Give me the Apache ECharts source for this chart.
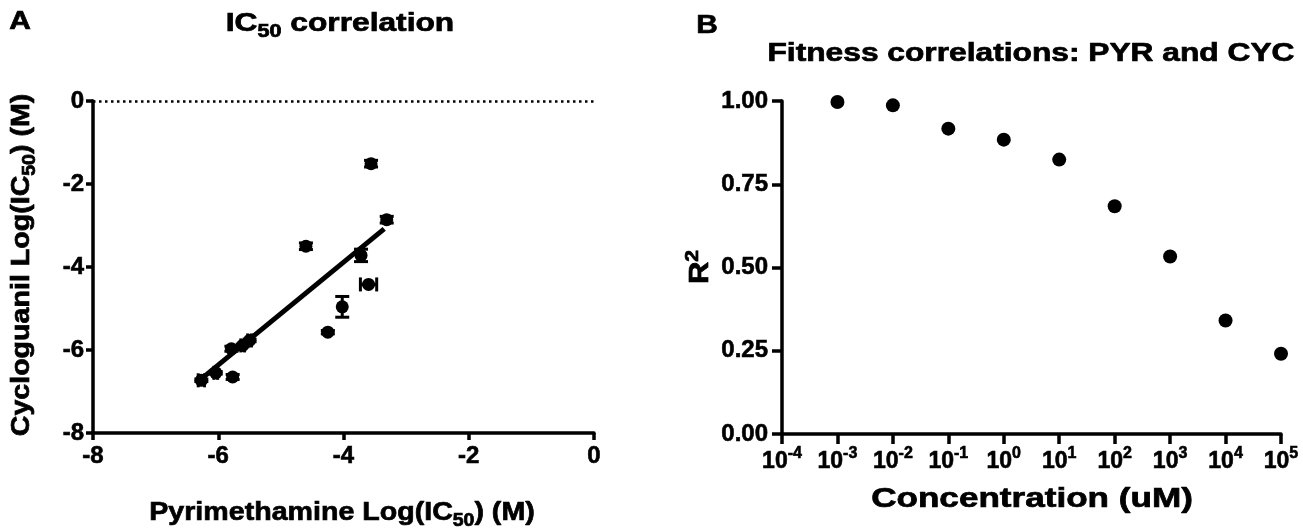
<!DOCTYPE html>
<html>
<head>
<meta charset="utf-8">
<script src="https://cdn.jsdelivr.net/npm/echarts@6/dist/echarts.min.js"></script>
<style>
	html, body { margin: 0; padding: 0; background: #fff; }
	#main { width: 1303px; height: 531px; }
</style>
</head>
<body>
<div id="main"></div>
<script>
/* Panel A: IC50 correlation */
const pyrLogIC50 = [-6.27, -6.04, -5.79, -5.77, -5.61, -5.50, -4.60, -4.25, -4.02, -3.72, -3.60, -3.56, -3.31];
const cycLogIC50 = [-6.73, -6.55, -5.97, -6.65, -5.89, -5.77, -3.50, -5.57, -4.96, -3.72, -4.42, -1.51, -2.86];
const pyrErr = [0.05, 0.03, 0, 0, 0.03, 0.03, 0, 0, 0, 0, 0.13, 0, 0];
const cycErr = [0.03, 0.03, 0.06, 0.06, 0.03, 0.03, 0.08, 0.04, 0.25, 0.15, 0, 0.08, 0.08];
/* fitted line ends */
const fitPyr = [-6.29, -3.35];
const fitCyc = [-6.72, -3.08];

/* Panel B: fitness correlations */
const concExp = [-3, -2, -1, 0, 1, 2, 3, 4, 5];
const rSquared = [0.997, 0.987, 0.917, 0.884, 0.824, 0.684, 0.533, 0.341, 0.241];

const BLACK = "#000";
const FONT = "Liberation Sans";

const chart = echarts.init(document.getElementById("main"));

const heavy = { textBorderColor: BLACK, textBorderWidth: 0.6 };
const tickLabel = (extra) =>
	Object.assign({ color: BLACK, fontFamily: FONT, fontWeight: "bold", fontSize: 24 }, heavy, extra);

/* 共用座標軸樣式 */
const axisBase = (tickLen, extra) =>
	Object.assign(
		{
			type: "value",
			splitLine: { show: false },
			axisLine: { show: true, onZero: false, lineStyle: { color: BLACK, width: 3.5 } },
			axisTick: { show: true, inside: false, length: tickLen, lineStyle: { color: BLACK, width: 3.5 } },
		},
		extra
	);

const errorRows = pyrLogIC50.map((x, i) => [x, cycLogIC50[i], pyrErr[i], cycErr[i]]);
const scatterA = pyrLogIC50.map((x, i) => [x, cycLogIC50[i]]);
const fitLine = fitPyr.map((x, i) => [x, fitCyc[i]]);
const scatterB = concExp.map((e, i) => [e, rSquared[i]]);

function renderErrorBar(params, api) {
	const x = api.value(0),
		y = api.value(1),
		ex = api.value(2),
		ey = api.value(3);
	const style = { stroke: BLACK, lineWidth: 3 };
	const cap = 7;
	const children = [];
	if (ey > 0) {
		const top = api.coord([x, y + ey]);
		const bot = api.coord([x, y - ey]);
		children.push({ type: "line", shape: { x1: top[0], y1: top[1], x2: bot[0], y2: bot[1] }, style });
		children.push({ type: "line", shape: { x1: top[0] - cap, y1: top[1], x2: top[0] + cap, y2: top[1] }, style });
		children.push({ type: "line", shape: { x1: bot[0] - cap, y1: bot[1], x2: bot[0] + cap, y2: bot[1] }, style });
	}
	if (ex > 0) {
		const lft = api.coord([x - ex, y]);
		const rgt = api.coord([x + ex, y]);
		children.push({ type: "line", shape: { x1: lft[0], y1: lft[1], x2: rgt[0], y2: rgt[1] }, style });
		children.push({ type: "line", shape: { x1: lft[0], y1: lft[1] - cap, x2: lft[0], y2: lft[1] + cap }, style });
		children.push({ type: "line", shape: { x1: rgt[0], y1: rgt[1] - cap, x2: rgt[0], y2: rgt[1] + cap }, style });
	}
	return { type: "group", children };
}

/* 標題與軸名稱 */
const label = (text, x, y, size, scaleX, extra) =>
	Object.assign(
		{
			type: "text",
			x,
			y,
			scaleX,
			silent: true,
			style: Object.assign(
				{
					text,
					fill: BLACK,
					stroke: BLACK,
					lineWidth: 0.7,
					fontFamily: FONT,
					fontWeight: "bold",
					fontSize: size,
					align: "center",
					verticalAlign: "middle",
				},
				extra && extra.style
			),
		},
		extra && extra.el
	);

const richPart = (size, more) =>
	Object.assign({ fontSize: size, fontFamily: FONT, fontWeight: "bold", fill: BLACK, stroke: BLACK, lineWidth: 0.7 }, more);
const subRich = (size) => ({
	sub: richPart(size * 0.68, { verticalAlign: "bottom", lineHeight: size * 0.7 }),
	n: richPart(size, { lineHeight: size * 1.3 }),
});
const supRich = (size) => ({
	sup: richPart(size * 0.68, { verticalAlign: "top", lineHeight: size * 0.7 }),
	n: richPart(size, { lineHeight: size * 1.3 }),
});
/* rich 文字不用外框，避免畫出方塊 */
const richStyle = (rich) => ({ style: { rich, stroke: null, lineWidth: 0 } });

chart.setOption({
	animation: false,
	backgroundColor: "#fff",
	grid: [
		{ left: 93, top: 101, width: 501, height: 332 },
		{ left: 782, top: 101, width: 499, height: 333 },
	],
	xAxis: [
		axisBase(7, { gridIndex: 0, min: -8, max: 0, interval: 2, axisLabel: tickLabel({ margin: 11 }) }),
		axisBase(10, {
			gridIndex: 1,
			min: -4,
			max: 5,
			interval: 1,
			axisLabel: {
				margin: 12,
				formatter: (v) => `{n|10}{s|${v}}`,
				rich: {
					n: Object.assign({ fontFamily: FONT, fontWeight: "bold", fontSize: 23, color: BLACK, lineHeight: 32 }, heavy),
					s: Object.assign({ fontFamily: FONT, fontWeight: "bold", fontSize: 16, color: BLACK, verticalAlign: "top", lineHeight: 16 }, heavy),
				},
			},
		}),
	],
	yAxis: [
		axisBase(7, { gridIndex: 0, min: -8, max: 0, interval: 2, axisLabel: tickLabel({ margin: 9 }) }),
		axisBase(10, {
			gridIndex: 1,
			min: 0,
			max: 1,
			interval: 0.25,
			axisLabel: tickLabel({ margin: 14, formatter: (v) => v.toFixed(2) }),
		}),
	],
	series: [
		{
			type: "line",
			xAxisIndex: 0,
			yAxisIndex: 0,
			data: fitLine,
			showSymbol: false,
			symbol: "none",
			lineStyle: { color: BLACK, width: 5 },
			silent: true,
			z: 2,
		},
		{
			type: "custom",
			xAxisIndex: 0,
			yAxisIndex: 0,
			data: errorRows,
			encode: { x: 0, y: 1 },
			renderItem: renderErrorBar,
			silent: true,
			z: 3,
		},
		{
			type: "scatter",
			xAxisIndex: 0,
			yAxisIndex: 0,
			data: scatterA,
			symbol: "circle",
			symbolSize: 13,
			itemStyle: { color: BLACK, opacity: 1 },
			silent: true,
			z: 4,
			markLine: {
				silent: true,
				symbol: "none",
				label: { show: false },
				lineStyle: { color: BLACK, width: 2.5, type: [2.5, 3.5] },
				data: [{ yAxis: 0 }],
			},
		},
		{
			type: "scatter",
			xAxisIndex: 1,
			yAxisIndex: 1,
			data: scatterB,
			symbol: "circle",
			symbolSize: 14,
			itemStyle: { color: BLACK, opacity: 1 },
			silent: true,
		},
	],
	graphic: [
		label("A", 20, 22, 26, 1.15),
		label("{n|IC}{sub|50}{n| correlation}", 340, 24, 26, 1.22, richStyle(subRich(26))),
		label("B", 707, 26, 26, 1.15),
		label("Fitness correlations: PYR and CYC", 1031, 54, 26, 1.22),
		label("{n|Pyrimethamine Log(IC}{sub|50}{n|) (M)}", 342, 513, 26, 1.1, richStyle(subRich(26))),
		label("{n|Cycloguanil Log(IC}{sub|50}{n|) (M)}", 22, 265, 26, 1.1, Object.assign(richStyle(subRich(26)), { el: { rotation: Math.PI / 2 } })),
		label("{n|R}{sup|2}", 701, 267, 27, 1.15, Object.assign(richStyle(supRich(27)), { el: { rotation: Math.PI / 2 } })),
		label("Concentration (uM)", 1032, 500, 27, 1.3),
	],
});
</script>
</body>
</html>
